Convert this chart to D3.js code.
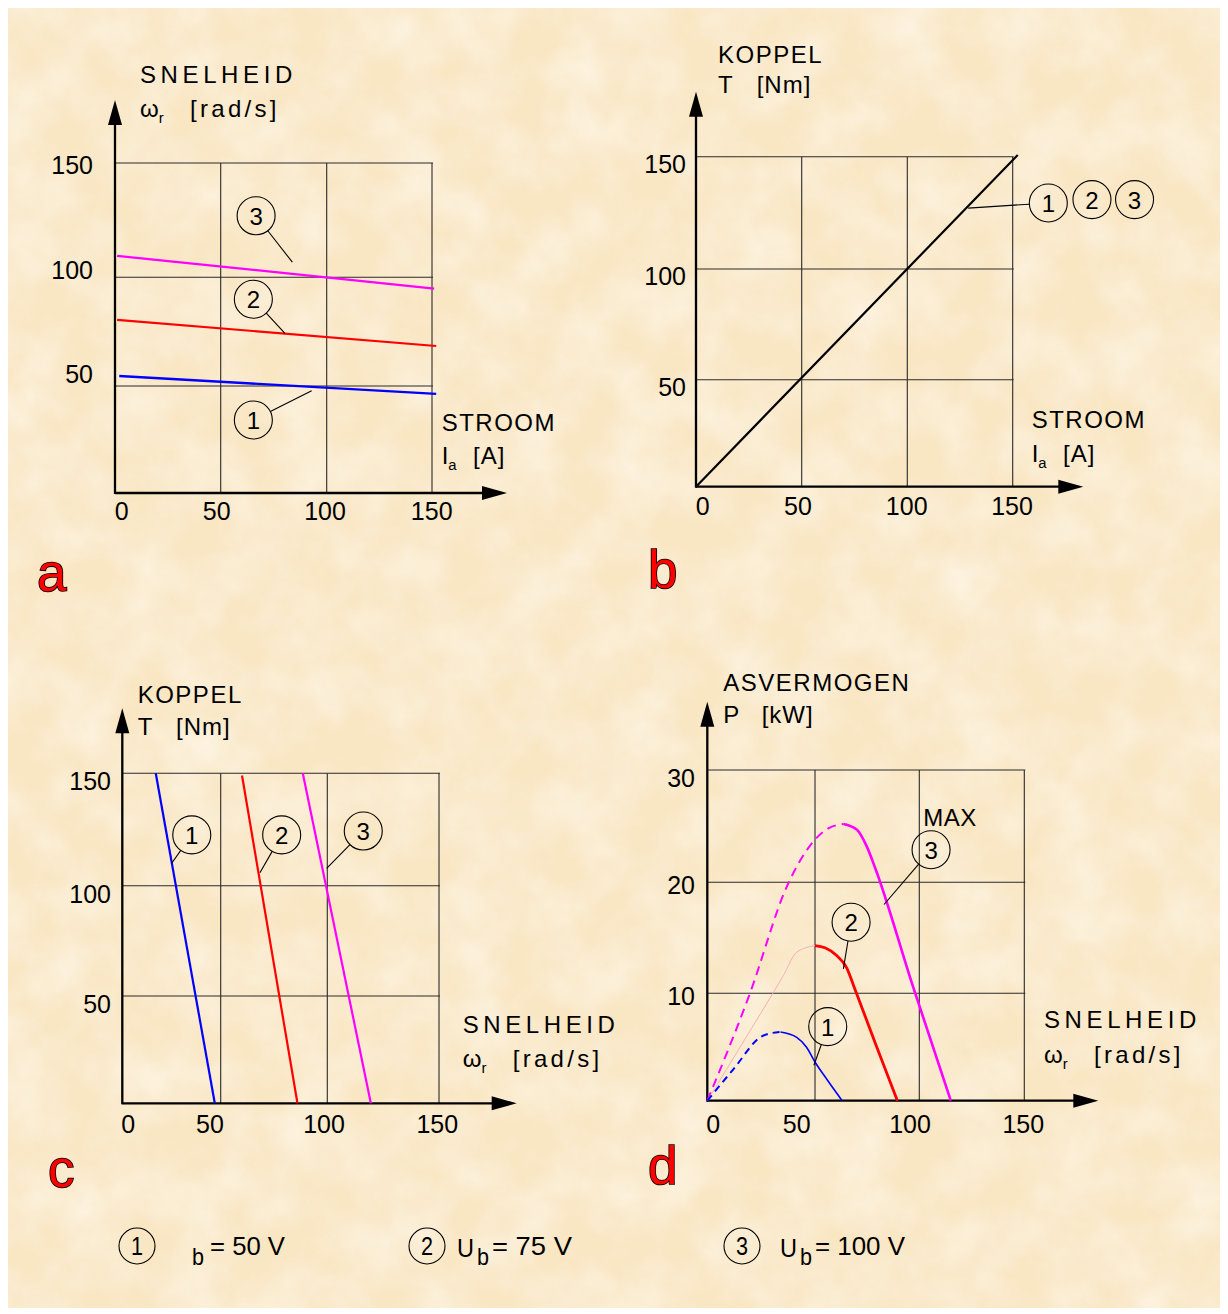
<!DOCTYPE html>
<html lang="nl">
<head>
<meta charset="utf-8">
<title>Gelijkstroommotor karakteristieken</title>
<script src="https://d3js.org/d3.v7.min.js"></script>
<style>
  body { margin: 0; background: #fff; }
  svg { display: block; }
</style>
</head>
<body>
<script>
// ---- data ----
var ticks150 = [0, 50, 100, 150];
var ticksPower = [0, 10, 20, 30];

// a: snelheid [rad/s] tegen stroom [A]
var speedCurrent1 = [[2, 54.6], [152, 46.3]];
var speedCurrent2 = [[1, 80.4], [152, 68.4]];
var speedCurrent3 = [[1, 109.4], [151, 94.8]];

// b: koppel [Nm] tegen stroom [A] (gelijk voor 1, 2, 3)
var torqueCurrent = [[0, 0], [152.4, 150.8]];

// c: koppel [Nm] tegen snelheid [rad/s]
var torqueSpeed1 = [[17, 150], [47, 0]];
var torqueSpeed2 = [[60, 149], [86, 0]];
var torqueSpeed3 = [[88.5, 150], [119.5, 0]];

// d: asvermogen [kW] tegen snelheid [rad/s]
var power1Dashed = [[0, 0], [12, 2.9], [25.3, 6.0], [30, 6.3], [34, 6.4]];
var power1Solid = [[34, 6.4], [41.5, 5.9], [46, 5.0], [50, 3.6], [56, 1.9], [63, 0]];
var power2Faint = [[0, 0], [18, 5.9], [35.3, 11.6], [41.5, 13.7], [50, 14.3]];
var power2Solid = [[50, 14.3], [54.8, 14.1], [60.4, 13.4], [65.2, 12.3], [68.7, 10.6], [79, 5.3], [89.5, 0]];
var power3Dashed = [[0, 0], [19.8, 10], [36.9, 19.6], [50, 23.8], [56.4, 24.8], [63.6, 25.2]];
var power3Solid = [[63.6, 25.2], [70, 24.7], [74.8, 23.2], [78.8, 21.3], [97, 10.6], [115, 0]];

// legenda
var legendNumbers = ["1", "2", "3"];
var legendPrefix = ["", "U", "U"];
var legendVoltage = [50, 75, 100];

// ---- drawing ----
var width = 1228, height = 1314;
var FONT = "'Liberation Sans', Arial, Helvetica, sans-serif";
var BLUE = "#0000ff", RED = "#ff0000", MAGENTA = "#ff00ff";

var svg = d3.select("body").append("svg")
    .attr("width", width)
    .attr("height", height)
    .style("font-family", FONT);

// paper background
var defs = svg.append("defs");
var paper = defs.append("filter").attr("id", "paper")
    .attr("x", 0).attr("y", 0).attr("width", "100%").attr("height", "100%");
paper.append("feTurbulence")
    .attr("type", "fractalNoise").attr("baseFrequency", "0.018")
    .attr("numOctaves", 4).attr("seed", 7).attr("result", "n");
paper.append("feColorMatrix").attr("in", "n").attr("type", "matrix")
    .attr("values", "0 0 0 0 1  0 0 0 0 0.98  0 0 0 0 0.93  1.3 0 0 0 -0.4");

svg.append("rect").attr("x", 8).attr("y", 8).attr("width", 1212).attr("height", 1300)
    .attr("fill", "#f9e6c3");
svg.append("rect").attr("x", 8).attr("y", 8).attr("width", 1212).attr("height", 1300)
    .attr("fill", "#fff").attr("filter", "url(#paper)").attr("opacity", 0.7);

function text(g, x, y, str, size, opts) {
    opts = opts || {};
    var t = g.append("text").attr("x", x).attr("y", y)
        .attr("font-size", size).attr("fill", "#000")
        .attr("text-anchor", opts.anchor || "start")
        .text(str);
    if (opts.ls) t.attr("letter-spacing", opts.ls);
    return t;
}

// text with a subscript, e.g. omega_r, I_a
function subText(g, x, y, main, sub, size) {
    var t = g.append("text").attr("x", x).attr("y", y).attr("font-size", size).attr("fill", "#000");
    t.append("tspan").text(main);
    t.append("tspan").attr("font-size", size * 0.62).attr("dy", 6).text(sub);
    return t;
}

function arrowHead(g, tx, ty, dir) {
    var L = 25, w = 7, pts;
    if (dir === "up") pts = [[tx, ty], [tx - w, ty + L], [tx + w, ty + L]];
    else pts = [[tx, ty], [tx - L, ty - w], [tx - L, ty + w]];
    g.append("path").attr("d", d3.line()(pts) + "Z").attr("fill", "#000");
}

function drawPanel(p) {
    var x = d3.scaleLinear().domain(p.xTicks).range(p.xRange);
    var y = d3.scaleLinear().domain(p.yTicks).range(p.yRange);
    var xl = d3.scaleLinear().domain(p.xTicks).range(p.xLabelX);
    var yl = d3.scaleLinear().domain(p.yTicks.slice(1)).range(p.yLabelY);
    var g = svg.append("g");
    var xMax = p.xTicks[p.xTicks.length - 1], yMax = p.yTicks[p.yTicks.length - 1];

    // grid
    g.selectAll("line.vg").data(p.xTicks.slice(1)).join("line")
        .attr("x1", function(d) { return x(d); }).attr("x2", function(d) { return x(d); })
        .attr("y1", y(0)).attr("y2", y(yMax))
        .attr("stroke", "#2a2a2a").attr("stroke-width", 1.1);
    g.selectAll("line.hg").data(p.yTicks.slice(1)).join("line")
        .attr("x1", x(0)).attr("x2", x(xMax) + 1)
        .attr("y1", function(d) { return y(d); }).attr("y2", function(d) { return y(d); })
        .attr("stroke", "#2a2a2a").attr("stroke-width", 1.1);

    // axes with arrows
    g.append("line").attr("x1", x(0)).attr("x2", p.xTip - 20).attr("y1", y(0)).attr("y2", y(0))
        .attr("stroke", "#000").attr("stroke-width", 2.3);
    g.append("line").attr("x1", x(0)).attr("x2", x(0)).attr("y1", y(0) + 1).attr("y2", p.yTip + 20)
        .attr("stroke", "#000").attr("stroke-width", 2.3);
    arrowHead(g, p.xTip, y(0), "right");
    arrowHead(g, x(0), p.yTip, "up");

    // tick labels
    g.selectAll("text.xt").data(p.xTicks).join("text")
        .attr("x", function(d) { return xl(d); }).attr("y", y(0) + p.xLabelDy)
        .attr("text-anchor", "middle").attr("font-size", 25).text(function(d) { return d; });
    g.selectAll("text.yt").data(p.yTicks.slice(1)).join("text")
        .attr("x", p.yLabelRight).attr("y", function(d) { return yl(d); })
        .attr("text-anchor", "end").attr("font-size", 25).text(function(d) { return d; });

    return { g: g, x: x, y: y };
}

function drawLine(P, data, color, w, opts) {
    opts = opts || {};
    var line = d3.line()
        .x(function(d) { return P.x(d[0]); })
        .y(function(d) { return P.y(d[1]); })
        .curve(opts.curve || d3.curveLinear);
    var path = P.g.append("path").attr("d", line(data))
        .attr("fill", "none").attr("stroke", color).attr("stroke-width", w)
        .attr("stroke-linejoin", "round");
    if (opts.dash) path.attr("stroke-dasharray", opts.dash);
}

function callout(P, num, c, to, r) {
    r = r || 19;
    var cx = P.x(c[0]), cy = P.y(c[1]);
    P.g.append("circle").attr("cx", cx).attr("cy", cy).attr("r", r)
        .attr("fill", "none").attr("stroke", "#000").attr("stroke-width", 1.1);
    P.g.append("text").attr("x", cx).attr("y", cy + 9).attr("text-anchor", "middle")
        .attr("font-size", 24).text(num);
    if (to) {
        var ex = P.x(to[0]), ey = P.y(to[1]);
        var dx = ex - cx, dy = ey - cy, len = Math.sqrt(dx * dx + dy * dy);
        P.g.append("line")
            .attr("x1", cx + r * dx / len).attr("y1", cy + r * dy / len)
            .attr("x2", ex).attr("y2", ey)
            .attr("stroke", "#000").attr("stroke-width", 1.1);
    }
}

function panelLetter(x, y, ch) {
    svg.append("text").attr("x", x).attr("y", y).attr("font-size", 53)
        .attr("fill", "#ff0000").attr("stroke", "#000").attr("stroke-width", 1.6)
        .attr("paint-order", "stroke").text(ch);
}

// ---------- panel a ----------
var A = drawPanel({
    xTicks: ticks150, yTicks: ticks150,
    xRange: [115, 220.7, 326.7, 432], yRange: [493, 386, 277.3, 163],
    xTip: 507, yTip: 100,
    xLabelX: [121.7, 216.7, 325, 431.7], xLabelDy: 27,
    yLabelY: [383, 279, 174], yLabelRight: 93
});
drawLine(A, speedCurrent3, MAGENTA, 2.2);
drawLine(A, speedCurrent2, RED, 2.2);
drawLine(A, speedCurrent1, BLUE, 2.4);
callout(A, "3", [66.7, 126.9], [83.8, 106.6]);
callout(A, "2", [65.4, 89.9], [80.3, 74.2]);
callout(A, "1", [65.4, 34.1], [92.9, 47.8]);
text(A.g, 140, 83, "SNELHEID", 24, { ls: 4.6 });
subText(A.g, 140, 117, "ω", "r", 24);
text(A.g, 190, 117, "[rad/s]", 24, { ls: 3.3 });
text(A.g, 441.7, 431, "STROOM", 24, { ls: 1.5 });
subText(A.g, 441.7, 464, "I", "a", 24);
text(A.g, 473, 464, "[A]", 24, { ls: 1 });
panelLetter(37, 591, "a");

// ---------- panel b ----------
var B = drawPanel({
    xTicks: ticks150, yTicks: ticks150,
    xRange: [696, 801.7, 907.3, 1012.7], yRange: [486.7, 379.7, 269, 156.7],
    xTip: 1083.3, yTip: 91.7,
    xLabelX: [702.7, 798, 906.7, 1012], xLabelDy: 28,
    yLabelY: [395.5, 285, 173], yLabelRight: 686
});
drawLine(B, torqueCurrent, "#000", 2.2);
callout(B, "1", [166.9, 129.4], [128.9, 127.1]);
callout(B, "2", [187.6, 130.9]);
callout(B, "3", [207.8, 130.9]);
text(B.g, 718, 63.3, "KOPPEL", 24, { ls: 1.5 });
text(B.g, 718, 93.3, "T", 24);
text(B.g, 756.7, 93.3, "[Nm]", 24, { ls: 1 });
text(B.g, 1031.7, 428, "STROOM", 24, { ls: 1.5 });
subText(B.g, 1031.7, 461.7, "I", "a", 24);
text(B.g, 1063, 461.7, "[A]", 24, { ls: 1 });
panelLetter(648, 588, "b");

// ---------- panel c ----------
var C = drawPanel({
    xTicks: ticks150, yTicks: ticks150,
    xRange: [122.3, 220.7, 327.3, 439], yRange: [1103.3, 996, 885.7, 773.3],
    xTip: 516.7, yTip: 708.3,
    xLabelX: [128.3, 210, 324, 437.3], xLabelDy: 30,
    yLabelY: [1013, 902.7, 790.3], yLabelRight: 111
});
drawLine(C, torqueSpeed1, BLUE, 2.2);
drawLine(C, torqueSpeed2, RED, 2.2);
drawLine(C, torqueSpeed3, MAGENTA, 2.2);
callout(C, "1", [35.3, 122.6], [25.1, 110]);
callout(C, "2", [78.6, 122.6], [68.4, 105.8]);
callout(C, "3", [116.1, 124.3], [99.7, 107.7]);
text(C.g, 137.7, 703.3, "KOPPEL", 24, { ls: 1.5 });
text(C.g, 137.7, 735, "T", 24);
text(C.g, 176, 735, "[Nm]", 24, { ls: 1 });
text(C.g, 462.7, 1032.7, "SNELHEID", 24, { ls: 4.6 });
subText(C.g, 462.7, 1066.7, "ω", "r", 24);
text(C.g, 512.7, 1066.7, "[rad/s]", 24, { ls: 3.3 });
panelLetter(48, 1187, "c");

// ---------- panel d ----------
var D = drawPanel({
    xTicks: ticks150, yTicks: ticksPower,
    xRange: [707.3, 815, 919.3, 1024.3], yRange: [1100.7, 993.3, 882.3, 770],
    xTip: 1098.3, yTip: 701.7,
    xLabelX: [713.3, 796.7, 910, 1023.3], xLabelDy: 32,
    yLabelY: [1005, 894, 787], yLabelRight: 695
});
drawLine(D, power3Dashed, MAGENTA, 2, { curve: d3.curveMonotoneX, dash: "9,6" });
drawLine(D, power3Solid, MAGENTA, 2.6, { curve: d3.curveMonotoneX });
drawLine(D, power2Faint, "#f7a9b0", 0.9, { curve: d3.curveMonotoneX });
drawLine(D, power2Solid, RED, 2.8, { curve: d3.curveMonotoneX });
drawLine(D, power1Dashed, BLUE, 2, { curve: d3.curveMonotoneX, dash: "7,5" });
drawLine(D, power1Solid, BLUE, 1.6, { curve: d3.curveMonotoneX });
callout(D, "1", [56.1, 6.9], [49.5, 3.3]);
callout(D, "2", [67.3, 16.4], [63.6, 12.2]);
callout(D, "3", [105.6, 22.9], [83.1, 18.0]);
text(D.g, D.x(101.9), D.y(25.0), "MAX", 24, { ls: 0.5 });
text(D.g, 723.3, 690.7, "ASVERMOGEN", 24, { ls: 1.5 });
text(D.g, 723.3, 723.3, "P", 24);
text(D.g, 761.7, 723.3, "[kW]", 24, { ls: 1 });
text(D.g, 1044, 1028.3, "SNELHEID", 24, { ls: 4.6 });
subText(D.g, 1044, 1063.3, "ω", "r", 24);
text(D.g, 1094, 1063.3, "[rad/s]", 24, { ls: 3.3 });
panelLetter(648, 1184, "d");

// ---------- legend ----------
var legendCx = [137, 427, 742];
var legendOffsets = [[0, 55, 73], [30, 50, 65], [38, 58, 73]];
var legendWidths = [75, 80, 90];
var lg = svg.append("g");
legendNumbers.forEach(function(n, i) {
    var cx = legendCx[i], cy = 1246, off = legendOffsets[i];
    lg.append("circle").attr("cx", cx).attr("cy", cy).attr("r", 18)
        .attr("fill", "none").attr("stroke", "#000").attr("stroke-width", 1.1);
    lg.append("text").attr("x", cx).attr("y", cy + 9).attr("text-anchor", "middle")
        .attr("font-size", 25).attr("textLength", 12).attr("lengthAdjust", "spacingAndGlyphs").text(n);
    if (legendPrefix[i]) {
        lg.append("text").attr("x", cx + off[0]).attr("y", 1257).attr("font-size", 25)
            .attr("textLength", 17).attr("lengthAdjust", "spacingAndGlyphs").text(legendPrefix[i]);
    }
    lg.append("text").attr("x", cx + off[1]).attr("y", 1265).attr("font-size", 24)
        .attr("textLength", 12).attr("lengthAdjust", "spacingAndGlyphs").text("b");
    lg.append("text").attr("x", cx + off[2]).attr("y", 1255).attr("font-size", 25)
        .attr("textLength", legendWidths[i]).attr("lengthAdjust", "spacingAndGlyphs")
        .text("= " + legendVoltage[i] + " V");
});
</script>
</body>
</html>
